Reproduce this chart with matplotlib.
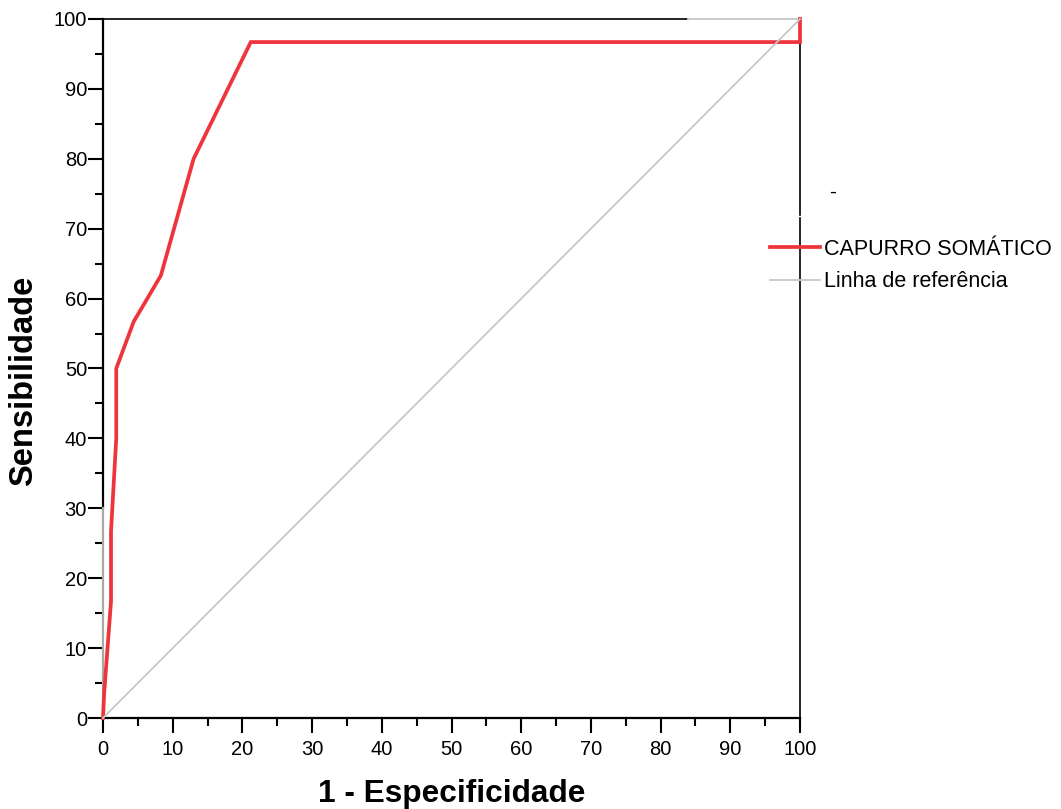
import matplotlib
matplotlib.use("Agg")
import matplotlib.pyplot as plt
from matplotlib.ticker import MultipleLocator

plt.rcParams['font.family'] = ['Liberation Sans', 'DejaVu Sans']

# ROC curve points (1 - especificidade, sensibilidade), in %
fpr = [0, 0.15, 1.15, 1.15, 1.9, 1.9, 4.4, 8.3, 13.0, 21.2, 100, 100]
tpr = [0, 3.3, 16.7, 26.7, 40.0, 50.0, 56.7, 63.3, 80.0, 96.7, 96.7, 100]
ref_x = [0, 100]
ref_y = [0, 100]

series_labels = ["CAPURRO SOMÁTICO", "Linha de referência"]
red = "#EE343C"
gray = "#C8C8C8"

fig = plt.figure(figsize=(10.61, 8.09), dpi=100)
ax = fig.add_axes([103 / 1061, 1 - 718 / 809, 697 / 1061, 699 / 809])

l1, = ax.plot(fpr, tpr, color=red, lw=2.7, clip_on=False, zorder=4,
              solid_joinstyle="miter")
l2, = ax.plot(ref_x, ref_y, color=gray, lw=1.3, clip_on=False, zorder=5)

ax.set_xlim(0, 100)
ax.set_ylim(0, 100)
ax.xaxis.set_major_locator(MultipleLocator(10))
ax.xaxis.set_minor_locator(MultipleLocator(5))
ax.yaxis.set_major_locator(MultipleLocator(10))
ax.yaxis.set_minor_locator(MultipleLocator(5))
ax.tick_params(which="major", direction="out", length=11, width=1.5,
               labelsize=14.5, color="black")
ax.tick_params(axis="y", which="major", pad=0.5)
ax.tick_params(axis="x", which="major", pad=5)
ax.tick_params(which="minor", direction="out", length=6, width=1.5)

# SPSS-style axis frame, partly covered by grey reference strokes
for s in ax.spines.values():
    s.set_linewidth(1.2)
ax.spines["left"].set_linewidth(1.6)
ax.spines["bottom"].set_linewidth(1.6)
ax.spines["left"].set_bounds(30, 100)
ax.spines["top"].set_bounds(0, 84)
ax.spines["right"].set_bounds(0, 71.5)
ax.plot([0, 0], [0, 30], color="#A8A8A8", lw=1.6, clip_on=False, zorder=3)
ax.plot([84, 100], [100, 100], color=gray, lw=1.3, clip_on=False, zorder=3)
ax.plot([100, 100], [72.0, 100], color="black", lw=1.2, clip_on=False, zorder=3)

ax.set_xlabel("1 - Especificidade", fontsize=22.8, fontweight="bold", labelpad=14)
ax.set_ylabel("Sensibilidade", fontsize=23.5, fontweight="bold")
ax.yaxis.set_label_coords(-0.0915, 0.482)

leg = fig.legend([l1, l2], series_labels, loc="center left",
                 bbox_to_anchor=(770 / 1061, 1 - 265.5 / 809),
                 frameon=False, fontsize=15.5, handlelength=2.3,
                 handletextpad=0.2, labelspacing=0.55,
                 borderpad=0, borderaxespad=0)
fig.text(829 / 1061, 1 - 192 / 809, "-", fontsize=15, ha="left", va="center")

fig.savefig("out.png", dpi=100)
